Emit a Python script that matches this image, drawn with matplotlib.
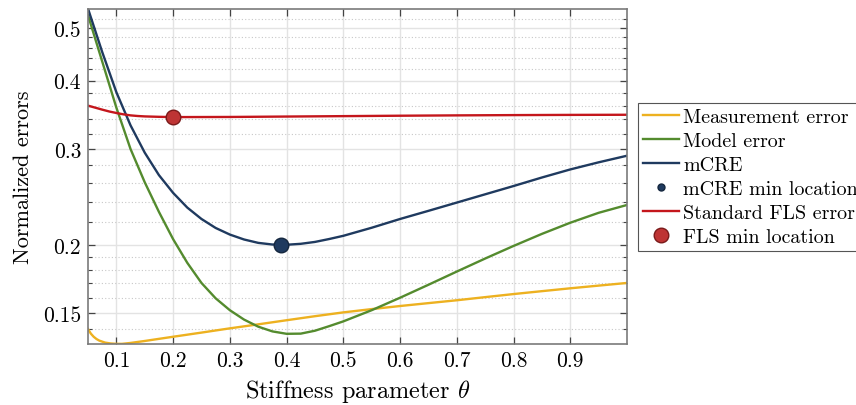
import matplotlib
matplotlib.use('Agg')
import matplotlib.pyplot as plt
from matplotlib.ticker import FixedLocator, FixedFormatter, NullFormatter

plt.rcParams['font.family'] = 'cmr10'
plt.rcParams['mathtext.fontset'] = 'cm'
plt.rcParams['axes.formatter.use_mathtext'] = True

# Measurement error
x_meas = [0.05, 0.055, 0.06, 0.065, 0.07, 0.08, 0.09, 0.10, 0.11, 0.125, 0.15,
          0.175, 0.20, 0.25, 0.30, 0.35, 0.40, 0.45, 0.50, 0.55, 0.60, 0.65,
          0.70, 0.75, 0.80, 0.85, 0.90, 0.95, 1.00]
y_meas = [0.1402, 0.1375, 0.1357, 0.1344, 0.1335, 0.1324, 0.1319, 0.1317,
          0.1317, 0.1322, 0.1333, 0.1345, 0.1357, 0.1381, 0.1406, 0.1430,
          0.1455, 0.1480, 0.1504, 0.1525, 0.1545, 0.1564, 0.1583, 0.1604,
          0.1625, 0.1645, 0.1665, 0.1684, 0.1703]

# Model error
x_model = [0.05, 0.075, 0.10, 0.125, 0.15, 0.175, 0.20, 0.225, 0.25, 0.275,
           0.30, 0.325, 0.35, 0.375, 0.40, 0.425, 0.45, 0.475, 0.50, 0.55,
           0.60, 0.65, 0.70, 0.75, 0.80, 0.85, 0.90, 0.95, 1.00]
y_model = [0.5273, 0.4339, 0.3570, 0.2997, 0.2605, 0.2299, 0.2049, 0.1854,
           0.1703, 0.1596, 0.1518, 0.1459, 0.1416, 0.1388, 0.1374, 0.1375,
           0.1392, 0.1419, 0.1448, 0.1518, 0.1600, 0.1690, 0.1787, 0.1888,
           0.1991, 0.2095, 0.2196, 0.2290, 0.2367]

# mCRE
x_mcre = [0.05, 0.075, 0.10, 0.125, 0.15, 0.175, 0.20, 0.225, 0.25, 0.275,
          0.30, 0.325, 0.35, 0.375, 0.40, 0.425, 0.45, 0.475, 0.50, 0.55,
          0.60, 0.65, 0.70, 0.75, 0.80, 0.85, 0.90, 0.95, 1.00]
y_mcre = [0.5423, 0.4516, 0.3810, 0.3312, 0.2952, 0.2685, 0.2491, 0.2341,
          0.2231, 0.2148, 0.2089, 0.2046, 0.2017, 0.2003, 0.2001, 0.2009,
          0.2025, 0.2050, 0.2078, 0.2150, 0.2231, 0.2309, 0.2391, 0.2476,
          0.2564, 0.2658, 0.2750, 0.2834, 0.2914]

# Standard FLS error
x_fls = [0.05, 0.0625, 0.075, 0.0875, 0.10, 0.1125, 0.125, 0.1375, 0.15,
         0.175, 0.20, 0.30, 0.40, 0.50, 0.60, 0.70, 0.80, 0.90, 1.00]
y_fls = [0.360, 0.357, 0.354, 0.3512, 0.3490, 0.3470, 0.3455, 0.3446, 0.3440,
         0.3434, 0.3430, 0.3432, 0.3438, 0.3444, 0.3450, 0.3455, 0.3459,
         0.3462, 0.3464]

mcre_min = (0.39, 0.2000)
fls_min = (0.20, 0.3430)

y_ticks = [0.15, 0.2, 0.3, 0.4, 0.5]
y_tick_labels = ['0.15', '0.2', '0.3', '0.4', '0.5']
y_minor = [0.14, 0.16, 0.17, 0.18, 0.19, 0.22, 0.24, 0.26, 0.28, 0.32, 0.34,
           0.36, 0.38, 0.42, 0.44, 0.46, 0.48, 0.52]
x_ticks = [0.1, 0.2, 0.3, 0.4, 0.5, 0.6, 0.7, 0.8, 0.9]
x_tick_labels = ['0.1', '0.2', '0.3', '0.4', '0.5', '0.6', '0.7', '0.8', '0.9']

c_yellow = '#EDB120'
c_green = '#548B2E'
c_blue = '#1F3A5F'
c_red = '#C4161C'

fig = plt.figure(figsize=(8.56, 4.06), dpi=100)
ax = fig.add_axes([0.1028, 0.1502, 0.6297, 0.8264])

ax.plot(x_meas, y_meas, color=c_yellow, lw=1.7, label='Measurement error')
ax.plot(x_model, y_model, color=c_green, lw=1.7, label='Model error')
ax.plot(x_mcre, y_mcre, color=c_blue, lw=1.7, label='mCRE')
ax.plot([mcre_min[0]], [mcre_min[1]], 'o', ls='none', color=c_blue,
        markersize=10.5, markeredgecolor='#14263e', label='mCRE min location')
ax.plot(x_fls, y_fls, color=c_red, lw=1.7, label='Standard FLS error')
ax.plot([fls_min[0]], [fls_min[1]], 'o', ls='none', color='#BE3434',
        markersize=10.5, markeredgecolor='#7a1a1a', label='FLS min location')

ax.set_yscale('log')
ax.set_xlim(0.05, 1.0)
ax.set_ylim(0.1316, 0.5425)

ax.yaxis.set_major_locator(FixedLocator(y_ticks))
ax.yaxis.set_major_formatter(FixedFormatter(y_tick_labels))
ax.yaxis.set_minor_locator(FixedLocator(y_minor))
ax.yaxis.set_minor_formatter(NullFormatter())
ax.xaxis.set_major_locator(FixedLocator(x_ticks))
ax.xaxis.set_major_formatter(FixedFormatter(x_tick_labels))

ax.grid(True, which='major', color='#e3e3e3', lw=1.0)
ax.grid(True, which='minor', axis='y', color='#c8c8c8', lw=0.8, ls=(0, (1, 2)))
ax.set_axisbelow(True)

ax.tick_params(which='both', direction='in', top=True, right=True,
               color='#444444', labelsize=15.5, pad=5)
ax.tick_params(which='major', length=5, width=0.9)
ax.tick_params(which='minor', length=3, width=0.8)
for s in ax.spines.values():
    s.set_color('#7a7a7a')
    s.set_linewidth(1.2)

ax.set_xlabel(r'Stiffness parameter $\theta$', fontsize=17.5, labelpad=5)
ax.set_ylabel('Normalized errors', fontsize=16, labelpad=7)

leg = fig.legend(loc='upper left', bbox_to_anchor=(0.7453, 0.744),
                 fontsize=14.4, frameon=True, fancybox=False,
                 edgecolor='#555555', framealpha=1, borderpad=0.25,
                 handlelength=1.8, handletextpad=0.2, labelspacing=0.3,
                 borderaxespad=0)
leg.get_frame().set_linewidth(0.8)
leg.legend_handles[3].set_markersize(5)
leg.legend_handles[5].set_markersize(10.5)

fig.savefig('out.png', dpi=100)
